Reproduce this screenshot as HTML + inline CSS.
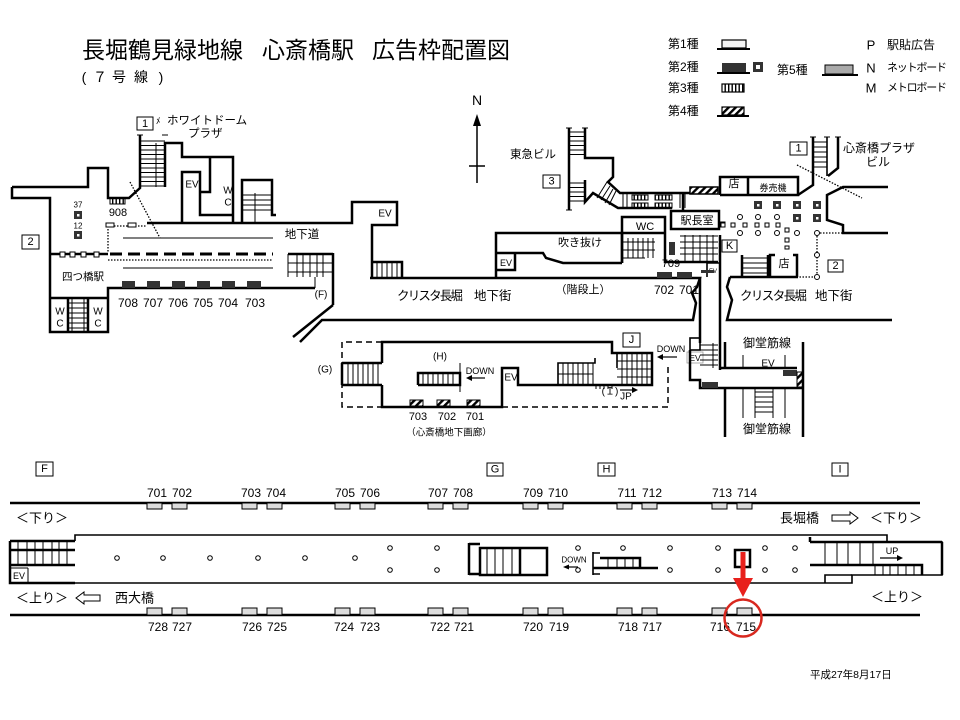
<!DOCTYPE html>
<html><head><meta charset="utf-8">
<style>
html,body{margin:0;padding:0;background:#fff;width:960px;height:720px;overflow:hidden}
svg{display:block}
text{font-family:"Liberation Sans","Noto Sans CJK JP",sans-serif;fill:#000}
.w{fill:none;stroke:#000;stroke-width:2.5}
.m{fill:none;stroke:#000;stroke-width:1.6}
.t{fill:none;stroke:#000;stroke-width:1}
.d{fill:none;stroke:#000;stroke-width:1.3;stroke-dasharray:1.5 1.5}
.c{text-anchor:middle;dominant-baseline:central}
.l{dominant-baseline:central}
.bx{fill:#fff;stroke:#000;stroke-width:1}
.ad{fill:#ddd;stroke:#000;stroke-width:1}
.dk{fill:#333}
.pl{fill:#fff;stroke:#000;stroke-width:1}
</style></head><body>
<svg width="960" height="720" viewBox="0 0 960 720" xmlns="http://www.w3.org/2000/svg">
<defs>
<pattern id="h" patternUnits="userSpaceOnUse" width="5" height="5" patternTransform="rotate(45)"><rect width="2.4" height="5" fill="#000"/></pattern>
<pattern id="v" patternUnits="userSpaceOnUse" width="3.5" height="4"><rect width="1.4" height="4" fill="#000"/></pattern>
</defs>
<rect width="960" height="720" fill="#fff"/>

<!-- Title -->
<text x="82" y="58" font-size="23">長堀鶴見緑地線</text>
<text x="262" y="58" font-size="23">心斎橋駅</text>
<text x="372" y="58" font-size="23">広告枠配置図</text>
<text class="c" x="84" y="77" font-size="14">(</text>
<text class="c" x="100" y="77" font-size="14">７</text>
<text class="c" x="119" y="77" font-size="14">号</text>
<text class="c" x="141" y="77" font-size="14">線</text>
<text class="c" x="161" y="77" font-size="14">)</text>

<!-- Legend -->
<text class="l" x="668" y="44" font-size="12">第1種</text>
<rect x="722" y="40" width="24" height="8" fill="#f4f4f4" stroke="#000" stroke-width="1.2"/>
<path d="M717,49H750" stroke="#000" stroke-width="2"/>
<text class="l" x="668" y="67" font-size="12">第2種</text>
<rect x="722" y="63" width="24" height="9" fill="#333"/>
<path d="M717,73H750" stroke="#000" stroke-width="2"/>
<rect x="753" y="62" width="10" height="10" fill="#333"/>
<rect x="756" y="65" width="4" height="4" fill="#fff"/>
<text class="l" x="668" y="88" font-size="12">第3種</text>
<rect x="722" y="84" width="22" height="8" fill="url(#v)" stroke="#000" stroke-width="1.2"/>
<text class="l" x="668" y="111" font-size="12">第4種</text>
<rect x="722" y="107" width="22" height="8" fill="url(#h)" stroke="#000" stroke-width="1.2"/>
<path d="M717,116H749" stroke="#000" stroke-width="2"/>
<text class="l" x="777" y="70" font-size="12">第5種</text>
<rect x="825" y="65" width="28" height="9" fill="#aaa" stroke="#000" stroke-width="1"/>
<path d="M822,75H858" stroke="#000" stroke-width="2"/>
<text class="c" x="871" y="45" font-size="13">P</text>
<text class="l" x="887" y="45" font-size="12">駅貼広告</text>
<text class="c" x="871" y="68" font-size="13">N</text>
<text class="l" x="887" y="68" font-size="11" textLength="60">ネットボード</text>
<text class="c" x="871" y="88" font-size="13">M</text>
<text class="l" x="887" y="88" font-size="11" textLength="60">メトロボード</text>

<!-- Compass -->
<text class="c" x="477" y="100" font-size="14">N</text>
<path d="M477,122V183M469,166H485" stroke="#000" stroke-width="1.5"/>
<polygon points="477,114 473,126 481,126" fill="#000"/>

<!-- ===== LEFT MAP ===== -->
<path class="w" d="M12,187H88V168H108V198H129L140,188V135"/>
<path class="w" d="M12,187V198H50V332H108V288H315"/>
<path class="w" d="M333,253V305"/>
<path class="w" d="M165,187V143H182V157H233V223"/>
<path class="w" d="M182,223V172H200V215H233M200,192H210V157"/>
<path class="w" d="M242,223V180H272V215H276"/>
<path class="t" d="M242,195H272M242,200H272M242,205H272M242,210H272M255,193V223"/>
<path class="w" d="M147,223H352V202H397V225H372V277"/>
<path class="w" d="M372,262H402V277"/>
<path class="t" d="M377,262V277M382,262V277M387,262V277M392,262V277M397,262V277"/>
<path class="t" d="M140,141H165M140,145.5H165M140,150H165M140,154.5H165M140,159H165M140,163.5H165M140,168H165M140,172.5H165M140,177H165M140,181.5H165M140,186H165M156,143V187M137,135H143M162,135H168"/>
<rect class="bx" x="137" y="117" width="16" height="13"/>
<text class="c" x="145" y="124" font-size="11">1</text>
<text class="l" x="156" y="121" font-size="9">ﾒ</text>
<text class="l" x="167" y="121" font-size="11.5">ホワイトドーム</text>
<text class="l" x="188" y="134" font-size="11.5">プラザ</text>
<text class="c" x="192" y="185" font-size="10">EV</text>
<text class="c" x="228" y="191" font-size="10">W</text>
<text class="c" x="228" y="203" font-size="10">C</text>

<path class="w" d="M50,298H108M68,298V332M88,298V332"/>
<path class="t" d="M68,303H88M68,308H88M68,313H88M68,318H88M68,323H88M68,328H88M72,298V332M84,298V332"/>
<text class="c" x="60" y="312" font-size="10">W</text>
<text class="c" x="60" y="324" font-size="10">C</text>
<text class="c" x="98" y="312" font-size="10">W</text>
<text class="c" x="98" y="324" font-size="10">C</text>

<path class="w" d="M50,254H108"/>
<rect class="bx" x="60" y="252" width="5" height="5"/>
<rect class="bx" x="70" y="252" width="5" height="5"/>
<rect class="bx" x="81" y="252" width="5" height="5"/>
<rect class="bx" x="94" y="252" width="5" height="5"/>
<path d="M110,254H273" stroke="#000" stroke-width="3" stroke-dasharray="12 6"/>
<path class="t" d="M123,238H273M123,268H273"/>
<path class="d" d="M108,260H273"/>
<path class="w" d="M288,254H333"/>
<path class="t" d="M288,254V277M297,254V277M303,254V277M310,254V277M317,254V277M323,254V277M288,263H333M288,272H333M315,277V288"/>
<path class="d" d="M130,182L160,238M108,226V252M108,226H147"/>
<rect class="bx" x="106" y="223" width="8" height="4"/>
<rect class="bx" x="128" y="223" width="8" height="4"/>
<rect x="110" y="198" width="15" height="6" fill="url(#v)" stroke="#000" stroke-width="1"/>
<text class="c" x="118" y="213" font-size="11">908</text>
<rect x="74" y="211" width="8" height="8" class="dk"/>
<rect x="77" y="214" width="2.5" height="2.5" fill="#fff"/>
<text class="c" x="78" y="205" font-size="8">37</text>
<rect x="74" y="231" width="8" height="8" class="dk"/>
<rect x="77" y="234" width="2.5" height="2.5" fill="#fff"/>
<text class="c" x="78" y="226" font-size="8">12</text>
<rect class="bx" x="22" y="235" width="17" height="14"/>
<text class="c" x="30.5" y="242" font-size="11">2</text>
<text class="c" x="83" y="277" font-size="10.5">四つ橋駅</text>
<text class="c" x="302" y="235" font-size="11.5">地下道</text>
<rect x="122" y="281" width="13" height="7" class="dk"/>
<rect x="147" y="281" width="13" height="7" class="dk"/>
<rect x="172" y="281" width="13" height="7" class="dk"/>
<rect x="197" y="281" width="13" height="7" class="dk"/>
<rect x="222" y="281" width="13" height="7" class="dk"/>
<rect x="247" y="281" width="14" height="7" class="dk"/>
<text class="c" x="128" y="303" font-size="12">708</text>
<text class="c" x="153" y="303" font-size="12">707</text>
<text class="c" x="178" y="303" font-size="12">706</text>
<text class="c" x="203" y="303" font-size="12">705</text>
<text class="c" x="228" y="303" font-size="12">704</text>
<text class="c" x="255" y="303" font-size="12">703</text>
<text class="c" x="321" y="295" font-size="10">(F)</text>

<!-- ===== MIDDLE ===== -->
<path class="w" d="M370,278H700L697,287L692,293L696,303L693,320H322L300,342"/>
<path class="w" d="M333,305L293,337"/>
<path class="w" d="M700,278V343"/>
<text class="l" x="397" y="296" font-size="12.5" textLength="66">クリスタ長堀</text>
<text class="l" x="474" y="296" font-size="12.5">地下街</text>
<text class="c" x="583" y="290" font-size="11">（階段上）</text>
<text class="c" x="385" y="214" font-size="10">EV</text>

<path class="w" d="M496,277V233H622V263"/>
<path class="w" d="M496,253H543L546,258L563,263H622"/>
<path class="w" d="M515,253V270H496"/>
<text class="c" x="506" y="263" font-size="9">EV</text>
<text class="c" x="580" y="243" font-size="11">吹き抜け</text>
<path class="w" d="M622,263V217H665V262H718M622,233H665"/>
<text class="c" x="645" y="227" font-size="11">WC</text>
<path class="t" d="M623,242H655M623,250H655M623,258H645M628,238V258M633,238V258M638,238V258M643,238V258M648,238V258M653,238V258"/>
<rect x="669" y="242" width="6" height="13" class="dk"/>
<text class="c" x="671" y="264" font-size="11">709</text>
<path class="t" d="M680,236H718M680,242H718M680,248H718M680,254H718M685,235V262M693,235V262M700,235V262M707,235V262M713,235V262"/>
<rect x="657" y="272" width="15" height="6" class="dk"/>
<rect x="677" y="272" width="15" height="6" class="dk"/>
<text class="c" x="664" y="290" font-size="12">702</text>
<text class="c" x="689" y="290" font-size="12">701</text>

<!-- stairs 3 & corridor -->
<path class="w" d="M569,128V210M585,128V158H613V177L608,182L620,193H690"/>
<path class="w" d="M585,180V202L593,193L618,208H672"/>
<path class="t" d="M566,128H572M582,128H588M566,210H572M569,132H585M569,136.5H585M569,141H585M569,145.5H585M569,150H585M569,154.5H585M569,183H585M569,187.5H585M569,192H585M569,196.5H585M569,201H585"/>
<path class="t" d="M597,198L607,182M601,200L610,186M605,203L613,189M609,205L616,191"/>
<rect x="632" y="195" width="16" height="5" fill="url(#v)" stroke="#000" stroke-width="1"/>
<rect x="655" y="195" width="17" height="5" fill="url(#v)" stroke="#000" stroke-width="1"/>
<rect x="632" y="203" width="16" height="5" fill="url(#v)" stroke="#000" stroke-width="1"/>
<rect x="655" y="203" width="17" height="5" fill="url(#v)" stroke="#000" stroke-width="1"/>
<path class="t" d="M623,194V208M627,194V208M680,194V208M685,194V208"/>
<text class="c" x="533" y="155" font-size="11.5">東急ビル</text>
<rect class="bx" x="543" y="175" width="17" height="13"/>
<text class="c" x="551.5" y="181.5" font-size="11">3</text>

<!-- ===== RIGHT ===== -->
<rect class="bx" x="790" y="142" width="17" height="13"/>
<text class="c" x="798.5" y="148.5" font-size="11">1</text>
<text class="l" x="843" y="148" font-size="12">心斎橋プラザ</text>
<text class="c" x="878" y="162" font-size="12">ビル</text>
<path class="w" d="M813,137V185L798,195"/>
<path class="m" d="M827,137V176"/>
<path class="w" d="M838,137V168L828,176"/>
<path class="t" d="M813,142H827M813,147H827M813,152H827M813,157H827M813,162H827M813,167H827M810,137H816M824,137H830M835,137H841"/>
<path class="d" d="M797,165L862,198"/>
<path class="w" d="M888,187H843L827,195V220L843,225V233H888"/>
<path class="w" d="M720,195V177H798V195H720M748,177V195"/>
<text class="c" x="734" y="184" font-size="11">店</text>
<text class="c" x="773" y="188" font-size="9">券売機</text>
<rect x="690" y="187" width="28" height="7" fill="url(#h)" stroke="#000" stroke-width="1.5"/>
<path class="w" d="M683,194V210"/>
<rect x="671" y="211" width="48" height="18" class="w"/>
<text class="c" x="697" y="221" font-size="11">駅長室</text>
<rect class="bx" x="720" y="222" width="5" height="5"/>
<rect class="bx" x="722" y="240" width="15" height="12"/>
<text class="c" x="729.5" y="246" font-size="11">K</text>

<rect x="754" y="201" width="8" height="8" class="dk"/><rect x="757" y="204" width="2.5" height="2.5" fill="#fff"/>
<rect x="773" y="201" width="8" height="8" class="dk"/><rect x="776" y="204" width="2.5" height="2.5" fill="#fff"/>
<rect x="793" y="201" width="8" height="8" class="dk"/><rect x="796" y="204" width="2.5" height="2.5" fill="#fff"/>
<rect x="813" y="201" width="8" height="8" class="dk"/><rect x="816" y="204" width="2.5" height="2.5" fill="#fff"/>
<rect x="793" y="214" width="8" height="8" class="dk"/><rect x="796" y="217" width="2.5" height="2.5" fill="#fff"/>
<rect x="813" y="214" width="8" height="8" class="dk"/><rect x="816" y="217" width="2.5" height="2.5" fill="#fff"/>
<circle class="pl" cx="740" cy="217" r="2.5"/><circle class="pl" cx="758" cy="217" r="2.5"/><circle class="pl" cx="777" cy="217" r="2.5"/>
<circle class="pl" cx="740" cy="233" r="2.5"/><circle class="pl" cx="758" cy="233" r="2.5"/><circle class="pl" cx="777" cy="233" r="2.5"/><circle class="pl" cx="797" cy="233" r="2.5"/>
<rect class="bx" x="721" y="223" width="4" height="4"/><rect class="bx" x="731" y="223" width="4" height="4"/><rect class="bx" x="743" y="223" width="4" height="4"/><rect class="bx" x="755" y="223" width="4" height="4"/><rect class="bx" x="765" y="223" width="4" height="4"/><rect class="bx" x="776" y="223" width="4" height="4"/>
<rect class="bx" x="785" y="228" width="4" height="4"/><rect class="bx" x="785" y="238" width="4" height="4"/><rect class="bx" x="785" y="246" width="4" height="3"/>
<path class="d" d="M817,233H843M817,233V277H798"/>
<circle class="pl" cx="817" cy="233" r="2.5"/><circle class="pl" cx="817" cy="255" r="2.5"/><circle class="pl" cx="817" cy="277" r="2.5"/>
<rect class="bx" x="828" y="260" width="15" height="12"/>
<text class="c" x="835.5" y="266" font-size="11">2</text>
<path class="w" d="M742,255V277M768,255V277"/>
<path class="t" d="M742,258H768M742,263H768M742,268H768M742,273H768"/>
<path class="w" d="M775,255H770V277M793,255H797V277"/>
<text class="c" x="784" y="264" font-size="11">店</text>
<path class="w" d="M730,277H798M730,277L727,287L732,300L727,320H892"/>
<text class="l" x="740" y="296" font-size="12.5" textLength="67">クリスタ長堀</text>
<text class="l" x="815" y="296" font-size="12.5">地下街</text>
<path class="w" d="M720,235V370"/>
<path class="m" d="M707,277V263H720"/>
<text class="c" x="713" y="272" font-size="6">EV</text>
<rect x="701" y="270" width="13" height="3" class="dk"/>

<!-- Midosuji -->
<rect x="690" y="338" width="10" height="12" class="m"/>
<rect x="687" y="352" width="16" height="11" fill="#fff" stroke="#999" stroke-width="0.8"/>
<text class="c" x="695" y="358" font-size="8.5">EV</text>
<path class="w" d="M690,350V380H700V388H803"/>
<rect x="702" y="382" width="16" height="6" class="dk"/>
<path class="t" d="M700,345H718M700,350H718M700,355H718M700,360H718M700,365H718M713,343V368"/>
<path class="w" d="M720,368H797M725,342V368M803,342V437M725,388V437"/>
<path class="t" d="M743,355V368M785,355V368M743,388V418M785,388V418"/>
<path class="t" d="M755,388V418M773,388V418M755,392H773M755,397H773M755,402H773M755,407H773M755,412H773"/>
<rect x="783" y="370" width="14" height="6" class="dk"/>
<rect x="797" y="372" width="6" height="15" fill="url(#h)" stroke="#000" stroke-width="1"/>
<text class="c" x="767" y="343" font-size="12">御堂筋線</text>
<text class="c" x="768" y="364" font-size="10">EV</text>
<text class="c" x="767" y="429" font-size="12">御堂筋線</text>
<text class="c" x="671" y="349" font-size="9">DOWN</text>
<path d="M677,357H662" stroke="#000" stroke-width="1.2"/>
<polygon points="657,357 663,354 663,360" fill="#000"/>

<!-- Gallery (dashed box) -->
<path fill="none" stroke="#000" stroke-width="1.5" stroke-dasharray="6 4" d="M382,342H342V407H382M502,407H668V367"/>
<path class="w" d="M382,363V342H612V353H652V385H518V368H502V407H382V385"/>
<path class="w" d="M342,363H382M342,385H382M342,363V385"/>
<path class="t" d="M348,363V385M353,363V385M358,363V385M363,363V385M368,363V385M373,363V385M378,363V385"/>
<path class="w" d="M418,385V373H460V385H418"/>
<path class="t" d="M423,373V385M428,373V385M433,373V385M438,373V385M443,373V385M448,373V385M453,373V385M460,363V392"/>
<path class="m" d="M558,385V363H595V358"/>
<path class="t" d="M558,374H593M563,363V385M568,363V385M573,363V385M578,363V385M583,363V385M588,363V385M593,363V385M596,385V389M600,385V389M604,385V389M608,385V389M612,385V389"/>
<path class="t" d="M617,361H652M617,369H652M617,377H652M622,353V385M627,353V385M632,353V385M637,353V385M642,353V385M647,353V385"/>
<path class="m" d="M617,353V368"/>
<text class="c" x="511" y="378" font-size="10">EV</text>
<rect class="bx" x="623" y="333" width="17" height="14"/>
<text class="c" x="631.5" y="340" font-size="11">J</text>
<text class="c" x="440" y="357" font-size="10">(H)</text>
<text class="c" x="325" y="370" font-size="10">(G)</text>
<text class="c" x="610" y="392" font-size="10">(Ｉ)</text>
<text class="c" x="626" y="397" font-size="10">JP</text>
<path d="M620,390H633" stroke="#000" stroke-width="1.2"/>
<polygon points="638,390 632,387 632,393" fill="#000"/>
<text class="c" x="480" y="371" font-size="9">DOWN</text>
<path d="M485,378H471" stroke="#000" stroke-width="1.2"/>
<polygon points="466,378 472,375 472,381" fill="#000"/>
<rect x="410" y="400" width="13" height="6" fill="url(#h)" stroke="#000" stroke-width="1"/>
<rect x="437" y="400" width="13" height="6" fill="url(#h)" stroke="#000" stroke-width="1"/>
<rect x="467" y="400" width="13" height="6" fill="url(#h)" stroke="#000" stroke-width="1"/>
<text class="c" x="418" y="417" font-size="11">703</text>
<text class="c" x="447" y="417" font-size="11">702</text>
<text class="c" x="475" y="417" font-size="11">701</text>
<text class="c" x="449" y="433" font-size="9.5">（心斎橋地下画廊）</text>

<!-- ===== PLATFORM ===== -->
<rect class="bx" x="36" y="462" width="17" height="14"/><text class="c" x="44.5" y="469" font-size="11">F</text>
<rect class="bx" x="487" y="463" width="16" height="13"/><text class="c" x="495" y="469.5" font-size="11">G</text>
<rect class="bx" x="598" y="463" width="17" height="13"/><text class="c" x="606.5" y="469.5" font-size="11">H</text>
<rect class="bx" x="832" y="463" width="16" height="13"/><text class="c" x="840" y="469.5" font-size="11">I</text>

<path d="M10,503H920M10,615H920" stroke="#000" stroke-width="2.5"/>
<g class="ad">
<rect x="147" y="503" width="15" height="6"/><rect x="172" y="503" width="15" height="6"/>
<rect x="242" y="503" width="15" height="6"/><rect x="267" y="503" width="15" height="6"/>
<rect x="335" y="503" width="15" height="6"/><rect x="360" y="503" width="15" height="6"/>
<rect x="428" y="503" width="15" height="6"/><rect x="453" y="503" width="15" height="6"/>
<rect x="523" y="503" width="15" height="6"/><rect x="548" y="503" width="15" height="6"/>
<rect x="617" y="503" width="15" height="6"/><rect x="642" y="503" width="15" height="6"/>
<rect x="712" y="503" width="15" height="6"/><rect x="737" y="503" width="15" height="6"/>
<rect x="147" y="608" width="15" height="7"/><rect x="172" y="608" width="15" height="7"/>
<rect x="242" y="608" width="15" height="7"/><rect x="267" y="608" width="15" height="7"/>
<rect x="335" y="608" width="15" height="7"/><rect x="360" y="608" width="15" height="7"/>
<rect x="428" y="608" width="15" height="7"/><rect x="453" y="608" width="15" height="7"/>
<rect x="523" y="608" width="15" height="7"/><rect x="548" y="608" width="15" height="7"/>
<rect x="617" y="608" width="15" height="7"/><rect x="642" y="608" width="15" height="7"/>
<rect x="712" y="608" width="15" height="7"/><rect x="737" y="608" width="15" height="7"/>
</g>
<g font-size="12" text-anchor="middle">
<text x="157" y="497">701</text><text x="182" y="497">702</text>
<text x="251" y="497">703</text><text x="276" y="497">704</text>
<text x="345" y="497">705</text><text x="370" y="497">706</text>
<text x="438" y="497">707</text><text x="463" y="497">708</text>
<text x="533" y="497">709</text><text x="558" y="497">710</text>
<text x="627" y="497">711</text><text x="652" y="497">712</text>
<text x="722" y="497">713</text><text x="747" y="497">714</text>
<text x="158" y="631">728</text><text x="182" y="631">727</text>
<text x="252" y="631">726</text><text x="277" y="631">725</text>
<text x="344" y="631">724</text><text x="370" y="631">723</text>
<text x="440" y="631">722</text><text x="464" y="631">721</text>
<text x="533" y="631">720</text><text x="559" y="631">719</text>
<text x="628" y="631">718</text><text x="652" y="631">717</text>
<text x="720" y="631">716</text><text x="746" y="631">715</text>
</g>

<text class="l" x="16" y="518" font-size="13">＜下り＞</text>
<text class="l" x="16" y="598" font-size="13">＜上り＞</text>
<polygon points="100,595 84,595 84,592 76,598 84,604 84,601 100,601" fill="#fff" stroke="#000" stroke-width="1"/>
<text class="l" x="115" y="598" font-size="13">西大橋</text>
<text class="l" x="780" y="518" font-size="13">長堀橋</text>
<polygon points="832,515 850,515 850,512 858,518 850,524 850,521 832,521" fill="#fff" stroke="#000" stroke-width="1"/>
<text class="l" x="870" y="518" font-size="13">＜下り＞</text>
<text class="l" x="871" y="597" font-size="13">＜上り＞</text>

<!-- platform outline -->
<path class="m" d="M75,541V535H887V542H942V575H852V583H10"/>
<path class="m" d="M825,583V575H852"/>
<path class="w" d="M942,542V575"/>
<path class="w" d="M10,541H75M10,541V583H75M10,550H75M10,565H75"/>
<path class="t" d="M18,541V565M27,541V565M35,541V565M43,541V565M52,541V565M59,541V565M67,541V565M28,568V583M10,568H28"/>
<text class="c" x="19" y="576" font-size="9">EV</text>
<path class="w" d="M810,542H942M810,565H922V575M810,537V542"/>
<path class="t" d="M825,542V565M837,542V565M848,542V565M860,542V565M873,542V565M875,565V575M883,565V575M890,565V575M898,565V575M906,565V575M914,565V575"/>
<text class="c" x="892" y="551" font-size="9">UP</text>
<path d="M880,558H898" stroke="#000" stroke-width="1.2"/>
<polygon points="903,558 897,555 897,561" fill="#000"/>

<g class="pl">
<circle cx="117" cy="558" r="2.3"/><circle cx="163" cy="558" r="2.3"/><circle cx="210" cy="558" r="2.3"/>
<circle cx="258" cy="558" r="2.3"/><circle cx="305" cy="558" r="2.3"/><circle cx="355" cy="558" r="2.3"/>
<circle cx="390" cy="548" r="2.3"/><circle cx="390" cy="570" r="2.3"/>
<circle cx="437" cy="548" r="2.3"/><circle cx="437" cy="570" r="2.3"/>
<circle cx="578" cy="548" r="2.3"/><circle cx="578" cy="570" r="2.3"/>
<circle cx="623" cy="548" r="2.3"/>
<circle cx="670" cy="548" r="2.3"/><circle cx="670" cy="570" r="2.3"/>
<circle cx="718" cy="548" r="2.3"/><circle cx="718" cy="570" r="2.3"/>
<circle cx="765" cy="548" r="2.3"/><circle cx="765" cy="570" r="2.3"/>
<circle cx="795" cy="548" r="2.3"/><circle cx="795" cy="570" r="2.3"/>
</g>
<!-- center stair G -->
<path class="w" d="M469,543V575M469,544H480M469,574H480"/>
<rect x="480" y="548" width="67" height="27" class="w"/>
<path class="t" d="M487,548V575M495,548V575M503,548V575M512,548V575"/>
<path class="w" d="M520,548V575"/>
<!-- down stair H -->
<text class="c" x="574" y="560" font-size="8">DOWN</text>
<path d="M578,567H568" stroke="#000" stroke-width="1.2"/>
<polygon points="563,567 569,564.5 569,569.5" fill="#000"/>
<path class="m" d="M593,552V575M593,553H600M593,574H600"/>
<path class="w" d="M600,558H640V568H658M593,568H640"/>
<path class="t" d="M608,558V568M617,558V568M625,558V568M633,558V568"/>
<!-- red marker -->
<rect x="735" y="550" width="15" height="17" fill="#fff" stroke="#000" stroke-width="2.5"/>
<rect x="740.5" y="552" width="5" height="28" fill="#e8201c"/>
<polygon points="733,578 753,578 743,597" fill="#e8201c"/>
<circle cx="743" cy="618" r="18.5" fill="none" stroke="#d8281f" stroke-width="2.5"/>

<text class="l" x="810" y="675" font-size="10.5">平成27年8月17日</text>
</svg>
</body></html>
